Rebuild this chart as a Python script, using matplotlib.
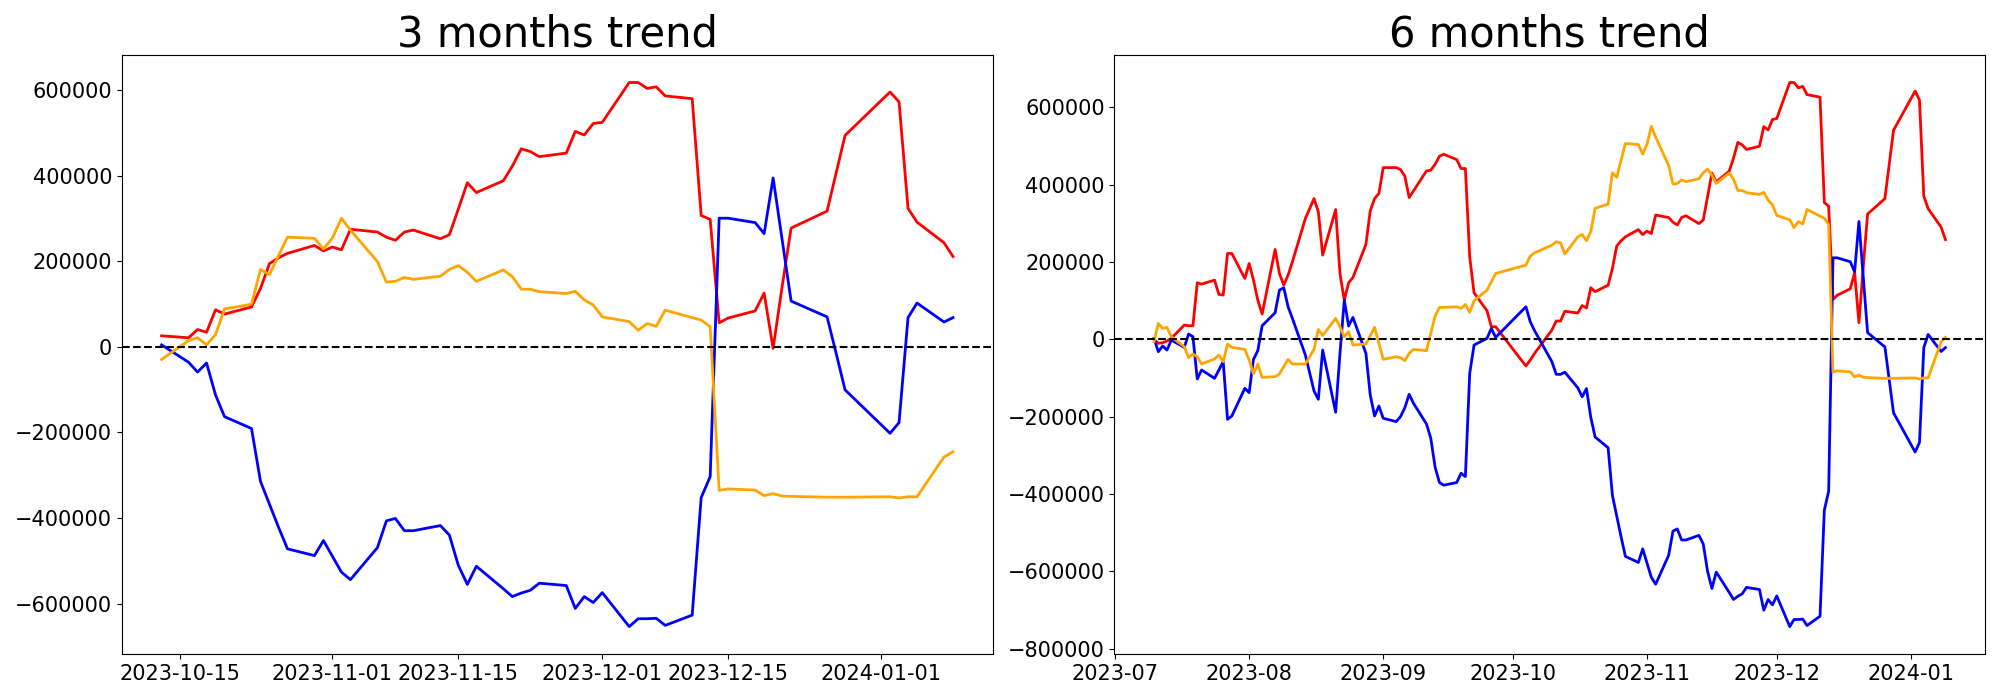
import matplotlib
matplotlib.use("Agg")
import matplotlib.pyplot as plt
import matplotlib.dates as mdates
import pandas as pd

# trading days (KRX calendar, holidays skipped)
dates_early = [
    "2023-07-10", "2023-07-11", "2023-07-12", "2023-07-13", "2023-07-14",
    "2023-07-17", "2023-07-18", "2023-07-19", "2023-07-20", "2023-07-21",
    "2023-07-24", "2023-07-25", "2023-07-26", "2023-07-27", "2023-07-28",
    "2023-07-31", "2023-08-01", "2023-08-02", "2023-08-03", "2023-08-04",
    "2023-08-07", "2023-08-08", "2023-08-09", "2023-08-10", "2023-08-11",
    "2023-08-14", "2023-08-16", "2023-08-17", "2023-08-18",
    "2023-08-21", "2023-08-22", "2023-08-23", "2023-08-24", "2023-08-25",
    "2023-08-28", "2023-08-29", "2023-08-30", "2023-08-31", "2023-09-01",
    "2023-09-04", "2023-09-05", "2023-09-06", "2023-09-07", "2023-09-08",
    "2023-09-11", "2023-09-12", "2023-09-13", "2023-09-14", "2023-09-15",
    "2023-09-18", "2023-09-19", "2023-09-20", "2023-09-21", "2023-09-22",
    "2023-09-25", "2023-09-26", "2023-09-27",
    "2023-10-04", "2023-10-05", "2023-10-06",
    "2023-10-10", "2023-10-11", "2023-10-12",
]
dates_3m = [
    "2023-10-13",
    "2023-10-16", "2023-10-17", "2023-10-18", "2023-10-19", "2023-10-20",
    "2023-10-23", "2023-10-24", "2023-10-25", "2023-10-26", "2023-10-27",
    "2023-10-30", "2023-10-31", "2023-11-01", "2023-11-02", "2023-11-03",
    "2023-11-06", "2023-11-07", "2023-11-08", "2023-11-09", "2023-11-10",
    "2023-11-13", "2023-11-14", "2023-11-15", "2023-11-16", "2023-11-17",
    "2023-11-20", "2023-11-21", "2023-11-22", "2023-11-23", "2023-11-24",
    "2023-11-27", "2023-11-28", "2023-11-29", "2023-11-30", "2023-12-01",
    "2023-12-04", "2023-12-05", "2023-12-06", "2023-12-07", "2023-12-08",
    "2023-12-11", "2023-12-12", "2023-12-13", "2023-12-14", "2023-12-15",
    "2023-12-18", "2023-12-19", "2023-12-20", "2023-12-21", "2023-12-22",
    "2023-12-26", "2023-12-27", "2023-12-28",
    "2024-01-02", "2024-01-03", "2024-01-04", "2024-01-05",
    "2024-01-08", "2024-01-09",
]
dates_6m = dates_early + dates_3m

# 3 months window (cumulative from 2023-10-13)
red_3m = [
    25800, 21200, 40500, 34100, 86600, 76500, 93100, 136400, 194500, 208000,
    218400, 236900, 224000, 233200, 226700, 274700, 268200, 256200, 248900, 268200,
    272800, 252500, 261800, 322000, 383400, 360400, 388000, 422100, 462700, 456200,
    444300, 452600, 503300, 494900, 521700, 524400, 617500, 617500, 603700, 607400,
    586200, 579700, 306900, 297700, 56200, 67300, 83900, 125400, -3700, 140600,
    277400, 317100, 405600, 494000, 595400, 572400, 323500, 291300, 243300, 211100,
]
blue_3m = [
    4600, -35900, -59000, -37800, -112400, -163100, -190800, -314300, -367800, -421200,
    -471900, -487600, -452500, -489400, -526300, -543800, -469100, -406500, -400900, -429500,
    -429500, -417500, -439700, -510600, -554900, -512500, -565000, -583400, -575100, -568700,
    -552100, -557600, -611100, -583400, -597300, -574200, -653500, -635100, -635100, -634100,
    -650700, -626700, -352100, -303200, 300500, 300500, 290300, 264500, 394500, 250700,
    106900, 70000, -14700, -100500, -201900, -177000, 68200, 102300, 58100, 68200,
]
orange_3m = [
    -29500, 14700, 21200, 4600, 28600, 88500, 99500, 180700, 168700, 212900,
    256200, 253500, 228600, 254400, 300500, 272800, 199100, 151200, 153000, 162200,
    157600, 165000, 180700, 189900, 174200, 153000, 179700, 164100, 134600, 134600,
    129000, 124400, 130000, 109700, 97700, 70000, 59000, 38700, 54400, 47900,
    85700, 68200, 62700, 47000, -335500, -331800, -334600, -347500, -342900, -348400,
    -349300, -351200, -351200, -351200, -350200, -353000, -350200, -350200, -257200, -245200,
]

# 6 months window (cumulative from 2023-07-10)
red_6m = [
    0, -10300, -8600, -4300, 2600, 37000, 35300, 35300, 146400, 143000,
    153300, 116300, 114600, 222200, 222200, 157600, 196400, 153300, 101600, 65500,
    232600, 170500, 140400, 166200, 200700, 312700, 364300, 329900, 217900, 335900,
    170000, 101600, 146400, 160200, 245500, 332500, 364300, 377300, 444400, 444400,
    439300, 422100, 366900, 384100, 435800, 437500, 453000, 473700, 478900, 465100,
    441900, 441900, 213600, 120600, 74100, 32700, 32700, -68900, -53400, -36200,
    24100, 47400, 47400,
    72800, 68200, 87500, 81100, 133600, 123500, 140100, 183400, 241500, 255000,
    265400, 283900, 271000, 280200, 273700, 321700, 315200, 303200, 295900, 315200,
    319800, 299500, 308800, 369000, 430400, 407400, 435000, 469100, 509700, 503200,
    491300, 499600, 550300, 541900, 568700, 571400, 664500, 664500, 650700, 654400,
    633200, 626700, 353900, 344700, 103200, 114300, 130900, 172400, 43300, 187600,
    324400, 364100, 452600, 541000, 642400, 619400, 370500, 338300, 290300, 258100,
]
blue_6m = [
    2600, -31900, -17200, -27600, -1700, -20700, 13800, 6900, -102500, -79200,
    -100800, -79200, -57700, -206700, -198100, -126600, -137800, -51700, -29300, 35300,
    68900, 127500, 133500, 84400, 54300, -40500, -133500, -155000, -27600, -188600,
    -36200, 101600, 34500, 56800, -36200, -143800, -198100, -172300, -204100, -212700,
    -199800, -176600, -142100, -165400, -218800, -255800, -330700, -370300, -377200, -370300,
    -346200, -354900, -87900, -14600, 2600, 28400, 5200, 84400, 45600, 22400,
    -57700, -90400, -90400,
    -84900, -125400, -148500, -127300, -201900, -252600, -280300, -403800, -457300, -510700,
    -561400, -577100, -542000, -578900, -615800, -633300, -558600, -496000, -490400, -519000,
    -519000, -507000, -529200, -600100, -644400, -602000, -654500, -672900, -664600, -658200,
    -641600, -647100, -700600, -672900, -686800, -663700, -743000, -724600, -724600, -723600,
    -740200, -716200, -441600, -392700, 211000, 211000, 200800, 175000, 305000, 161200,
    17400, -19500, -104200, -190000, -291400, -266500, -21300, 12800, -31400, -21300,
]
orange_6m = [
    -6000, 41300, 28400, 31000, 6900, -18900, -47400, -37900, -44800, -63700,
    -50800, -40500, -57700, -12100, -20700, -25800, -53400, -89600, -63700, -98200,
    -96500, -89600, -70600, -51700, -63700, -63700, -25800, 25800, 10300, 54300,
    32700, 6900, 19800, -14600, -12100, 9500, 31000, -10300, -51700, -44800,
    -47400, -55100, -36200, -25800, -29300, 15500, 60300, 82700, 82700, 84400,
    80100, 90400, 69800, 99900, 127500, 149000, 170500, 192100, 215300, 223900,
    243700, 252400, 249800,
    221000, 265200, 271700, 255100, 279100, 339000, 350000, 431200, 419200, 463400,
    506700, 504000, 479100, 504900, 551000, 523300, 449600, 401700, 403500, 412700,
    408100, 415500, 431200, 440400, 424700, 403500, 430200, 414600, 385100, 385100,
    379500, 374900, 380500, 360200, 348200, 320500, 309500, 289200, 304900, 298400,
    336200, 318700, 313200, 297500, -85000, -81300, -84100, -97000, -92400, -97900,
    -98800, -100700, -100700, -100700, -99700, -102500, -99700, -99700, -6700, 5300,
]


def draw(ax, dates, red, blue, orange, title):
    x = pd.to_datetime(dates)
    ax.plot(x, red, color="red", lw=2)
    ax.plot(x, blue, color="blue", lw=2)
    ax.plot(x, orange, color="orange", lw=2)
    ax.axhline(0, color="black", ls="--", lw=1.5)
    ax.set_title(title, fontsize=30)
    ax.tick_params(labelsize=15)


fig, (ax1, ax2) = plt.subplots(1, 2, figsize=(20, 7), dpi=100)
fig.subplots_adjust(left=0.061, right=0.9925, bottom=0.066, top=0.921, wspace=0.14)

draw(ax1, dates_3m, red_3m, blue_3m, orange_3m, "3 months trend")
ax1.xaxis.set_major_locator(mdates.DayLocator(bymonthday=[1, 15]))
ax1.xaxis.set_major_formatter(mdates.DateFormatter("%Y-%m-%d"))

draw(ax2, dates_6m, red_6m, blue_6m, orange_6m, "6 months trend")
ax2.xaxis.set_major_locator(mdates.MonthLocator())
ax2.xaxis.set_major_formatter(mdates.DateFormatter("%Y-%m"))

fig.savefig("out.png")
